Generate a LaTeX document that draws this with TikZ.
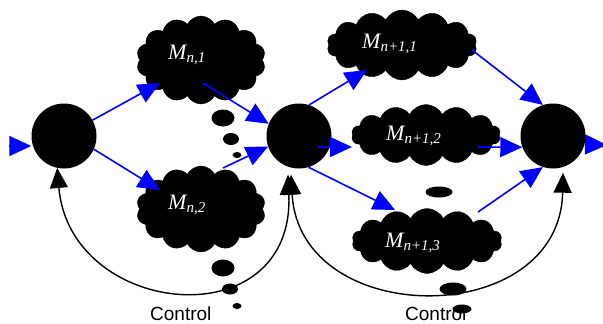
\documentclass[tikz,border=0pt]{standalone}
\usepackage{fontspec}
\setmainfont{Liberation Serif}
\newfontfamily\labelfont{Liberation Sans}
\usetikzlibrary{shapes.symbols,arrows.meta,calc}

% module name M with an italic subscript
\newcommand\mname[1]{{\fontsize{22}{22}\selectfont\itshape M}{\fontsize{15}{15}\selectfont\itshape\raisebox{-3pt}{#1}}}

\begin{document}
\begin{tikzpicture}[x=1pt,y=-1pt,
  state/.style={circle,fill=black,minimum size=65pt,inner sep=0},
  puff/.style={cloud,cloud puffs=14,cloud puff arc=125,cloud ignores aspect,fill=black,draw=black,inner sep=0},
  mlabel/.style={text=white,anchor=base west,inner sep=0},
  flow/.style={draw={rgb,255:red,0;green,0;blue,255},line width=1.6pt,
    -{Triangle[length=22pt,width=20pt,fill={rgb,255:red,0;green,0;blue,255}]}},
  ctrl/.style={black,line width=1.4pt,
    {Triangle[length=20pt,width=18pt]}-{Triangle[length=20pt,width=18pt]}},
  ctrltext/.style={font=\labelfont\fontsize{19}{20}\selectfont,anchor=base west,inner sep=0}
]
\useasboundingbox (0,0) rectangle (603,324);

% decision states
\node[state] (n1) at (64,136) {};
\node[state] (n2) at (299,136) {};
\node[state] (n3) at (553,136) {};

% model clouds
\node[puff,minimum width=129pt,minimum height=88pt] (c1) at (201,60) {};
\node[puff,minimum width=129pt,minimum height=86pt] (c2) at (201,209) {};
\node[puff,minimum width=150pt,minimum height=70pt] (c3) at (402,45) {};
\node[puff,minimum width=149pt,minimum height=61pt] (c4) at (426,135) {};
\node[puff,minimum width=150pt,minimum height=65pt] (c5) at (427,241) {};

\node[mlabel] (t1) at (168,59) {\mname{n,1}};
\node[mlabel] (t2) at (168,209) {\mname{n,2}};
\node[mlabel] (t3) at (362,48) {\mname{n+1,1}};
\node[mlabel] (t4) at (386,140) {\mname{n+1,2}};
\node[mlabel] (t5) at (385,247) {\mname{n+1,3}};

% thought bubbles
\fill (223,118) ellipse [x radius=11.5pt, y radius=8.5pt];
\fill (231,139) ellipse [x radius=8pt, y radius=6pt];
\fill (237,155) ellipse [x radius=4.5pt, y radius=3pt];
\fill (223,268) ellipse [x radius=11.5pt, y radius=8.5pt];
\fill (230,289) ellipse [x radius=8pt, y radius=5.5pt];
\fill (237,306) ellipse [x radius=4.5pt, y radius=3pt];
\fill (439,192) ellipse [x radius=13.5pt, y radius=5.5pt];
\fill (453,289) ellipse [x radius=13.5pt, y radius=6.5pt];

% forward flow
\coordinate (in) at (9,146);
\coordinate (out) at (607,145);
\draw[flow] (in) -- (n1.west |- in);
\draw[flow] (n1.29) -- ($(c1)+(-41,23)$);
\draw[flow] (n1.-24) -- ($(c2)+(-41,-19)$);
\draw[flow] ($(c1)+(2,23)$) -- (n2.158);
\draw[flow] ($(c2)+(22,-41)$) -- (n2.199);
\draw[flow] (n2.72) -- ($(c3)+(-35,25)$);
\draw[flow] ($(n2)+(19,11)$) -- ($(c4)+(-74,12)$);
\draw[flow] (n2.-73) -- ($(c5)+(-32,-31)$);
\draw[flow] ($(c3)+(70,5)$) -- (n3.108);
\draw[flow] ($(c4)+(52,12)$) -- (n3.200);
\draw[flow] ($(c5)+(51,-29)$) -- (n3.252);
\draw[flow] (n3.-15) -- (out);

% control loops
\draw[ctrl] (n1.258) .. controls (70,318) and (295,340) .. ($(n2.south)+(-11,6)$);
\draw[ctrl] ($(n2.south)+(-8,6)$) .. controls (300,330) and (560,330) .. ($(n3.south)+(10,4)$);

\node[ctrltext] (l1) at (150,320) {Control};
\node[ctrltext] (l2) at (405,320) {Control};
\fill (462,309) ellipse [x radius=9.5pt, y radius=4.5pt];
\end{tikzpicture}
\end{document}
